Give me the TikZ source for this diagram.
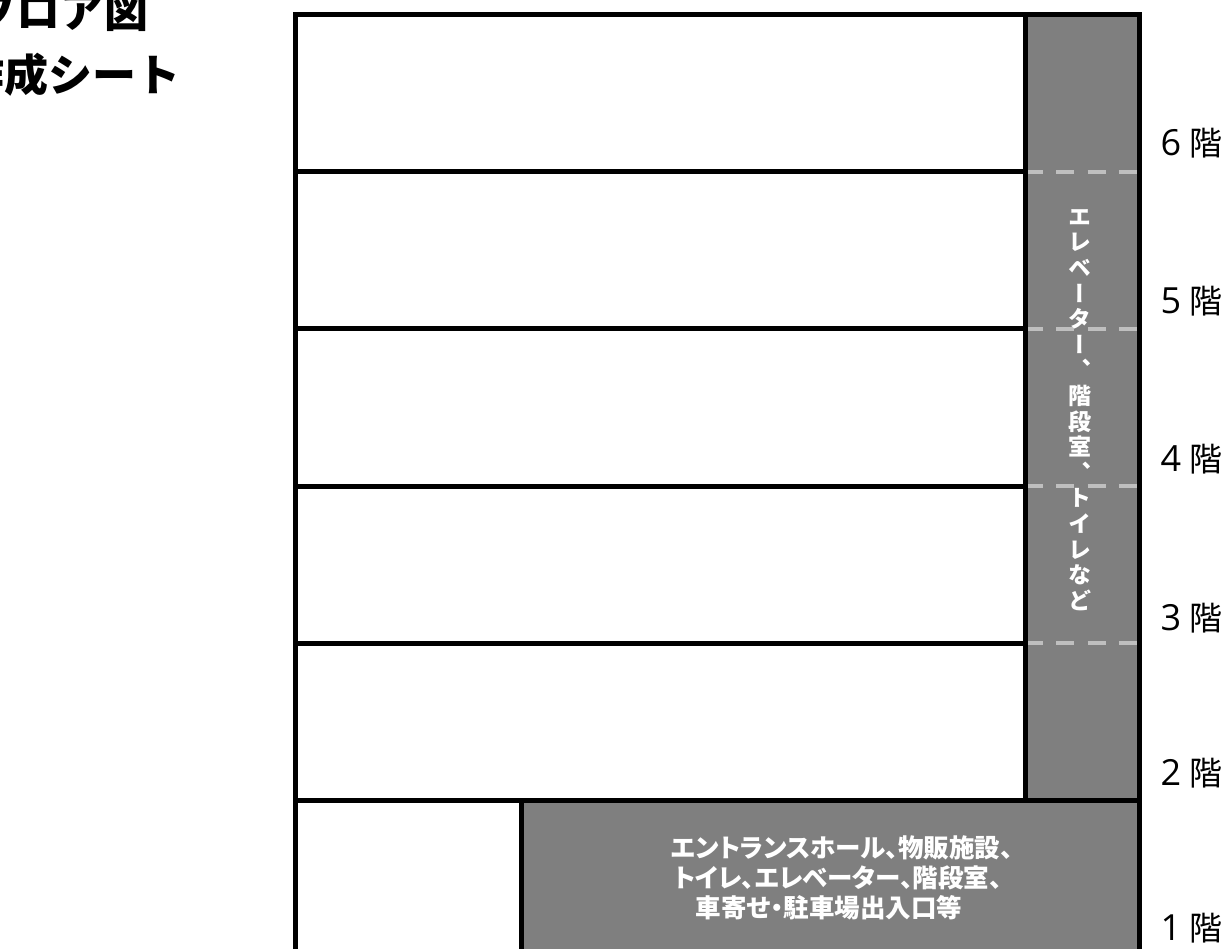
\documentclass[tikz,border=0pt]{standalone}
\usepackage{fontspec}
\newfontfamily\jp{Noto Sans CJK JP}
\newfontfamily\jpp[RawFeature=+palt]{Noto Sans CJK JP}
\newfontfamily\jpv[RawFeature=+vert]{Noto Sans CJK JP}
\setmainfont{Open Sans}
\definecolor{corefill}{HTML}{7F7F7F}
\definecolor{dashgray}{HTML}{BFBFBF}
\tikzset{
  wall/.style={line width=5pt,draw=black},
  core/.style={fill=corefill},
  floorline/.style={draw=dashgray,line width=4pt,dash pattern=on 18pt off 13.3pt},
  floorlabel/.style={anchor=base east,font=\fontsize{36}{36}\selectfont,inner sep=0pt},
  title/.style={anchor=base east,font=\jp\bfseries\fontsize{44}{44}\selectfont,inner sep=0pt},
  corelabel/.style={text=white,align=center,font=\jpp\bfseries\fontsize{25.5}{30}\selectfont,inner sep=0pt},
  vlabel/.style={text=white,align=center,font=\jpv\bfseries\fontsize{23}{25.6}\selectfont,inner sep=0pt}
}
\begin{document}
\begin{tikzpicture}[x=1pt,y=-1pt]
\useasboundingbox (0,0) rectangle (1223,949);
\fill[core] (1025,15) rectangle (1139,800);
\fill[core] (521,800) rectangle (1139,960);
\foreach \y in {172,329,486,643} {
  \draw[wall] (295,\y) -- (1025,\y);
  \draw[floorline] (1025,\y) -- (1139,\y);
}
\draw[wall] (1025,15) -- (1025,800);
\draw[wall] (295,800) -- (1139,800);
\draw[wall] (521,800) -- (521,960);
\draw[wall] (295,960) -- (295,15) -- (1139,15) -- (1139,960);
\node[title] (t1) at (149,28) {フロア図};
\node[title] (t2) at (181,92) {作成シート};
\node[vlabel] (v) at (1080,410) {エ\\レ\\ベ\\ー\\タ\\ー\\、\\階\\段\\室\\、\\ト\\イ\\レ\\な\\ど};
\node[corelabel] (h) at (829,878) {\hspace*{26pt}エントランスホール、物販施設、\\\hspace*{18pt}トイレ、エレベーター、階段室、\\車寄せ・駐車場出入口等};
\foreach \n/\y in {6/156,5/314,4/471,3/630,2/785,1/940} {
  \node[floorlabel] (f\n) at (1222.5,\y) {\n\hspace{8pt}{\jp\fontsize{33}{33}\selectfont 階}};
}
\end{tikzpicture}
\end{document}
